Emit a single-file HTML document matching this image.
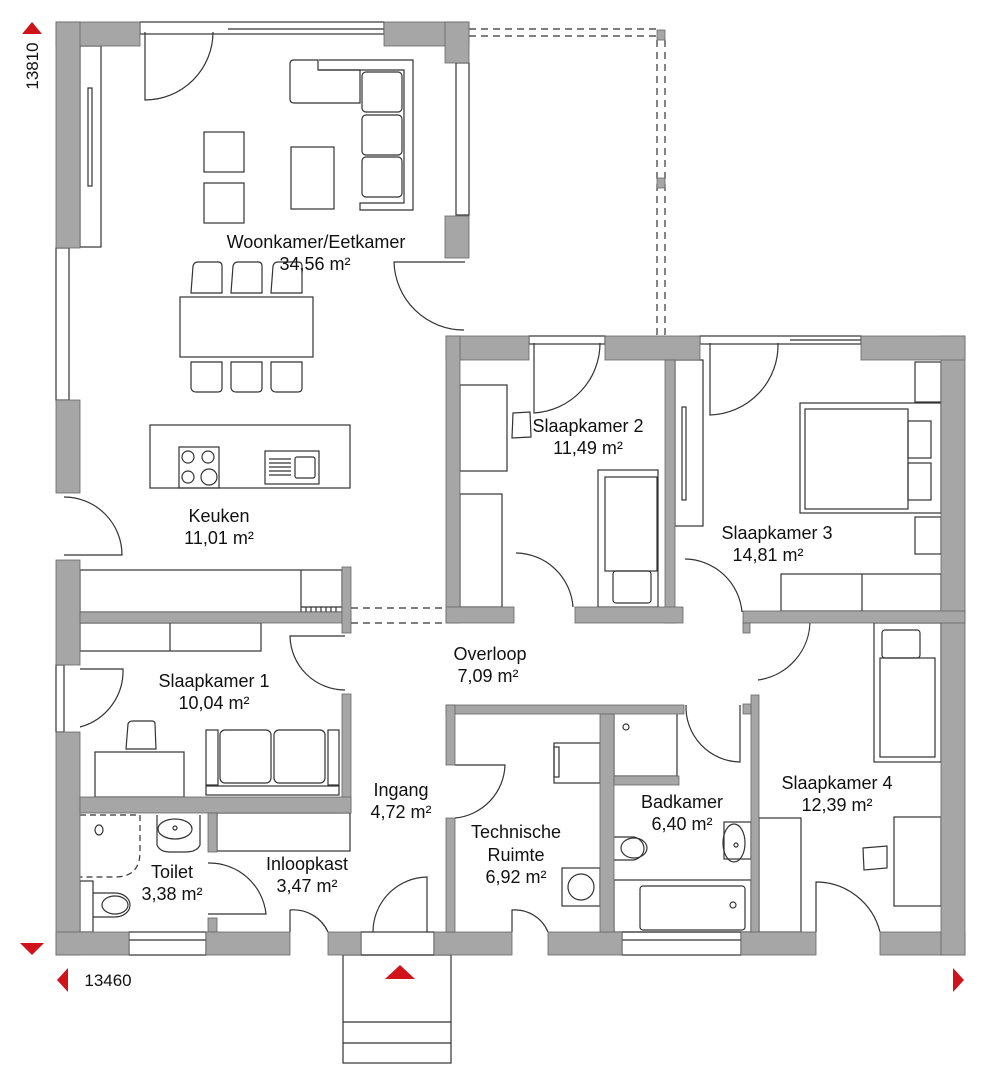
<!DOCTYPE html>
<html><head><meta charset="utf-8"><style>
html,body{margin:0;padding:0;background:#fff;}
svg{display:block;}
text{font-family:"Liberation Sans",sans-serif;font-size:18px;fill:#111;text-anchor:middle;}
</style></head><body>
<svg width="995" height="1080" viewBox="0 0 995 1080" xmlns="http://www.w3.org/2000/svg">
<g fill="none" stroke="#333" stroke-width="1.2">
<line x1="469" y1="29" x2="657" y2="29" stroke-dasharray="7,5"/>
<line x1="469" y1="36" x2="657" y2="36" stroke-dasharray="7,5"/>
<line x1="657" y1="40" x2="657" y2="336" stroke-dasharray="7,5"/>
<line x1="665" y1="40" x2="665" y2="336" stroke-dasharray="7,5"/>
<rect x="140" y="22" width="244" height="12"/>
<line x1="228" y1="29" x2="384" y2="29"/>
<rect x="456" y="63" width="13" height="152"/>
<rect x="56" y="248" width="13" height="152"/>
<rect x="56" y="665" width="8" height="67"/>
<rect x="80" y="46" width="21" height="201"/>
<rect x="88" y="88" width="4" height="98"/>
<path d="M145 32 V100 A68 68 0 0 0 213 32"/>
<path d="M465 262 H394 A70 70 0 0 0 464 330"/>
<path d="M64 497 A58 58 0 0 1 122 555 H64"/>
<path d="M345 636 H290 A55 55 0 0 0 345 690"/>
<path d="M80 669 H123 A58 58 0 0 1 80 727"/>
<path d="M208 863 A57 57 0 0 1 266 914 H208"/>
<path d="M290 932 V910 A38 38 0 0 1 328 932"/>
<path d="M373 932 A55 55 0 0 1 427 877 V932"/>
<path d="M534 343 V413 A70 70 0 0 0 600 343"/>
<path d="M710 343 V415 A70 70 0 0 0 778 343"/>
<path d="M516 553 A58 58 0 0 1 573 607"/>
<path d="M685 559 A58 58 0 0 1 742 612"/>
<path d="M455 765 H505 A55 55 0 0 1 455 818"/>
<path d="M746 622 H810 A60 60 0 0 1 758 680"/>
<path d="M686 705 A55 55 0 0 0 740 762 V705"/>
<path d="M512 932 V910 A36 36 0 0 1 548 932"/>
<path d="M816 932 V882 A66 66 0 0 1 880 932"/>
<rect x="129" y="932" width="77" height="23"/><line x1="129" y1="940" x2="206" y2="940"/>
<rect x="622" y="932" width="119" height="23"/><line x1="622" y1="940" x2="741" y2="940"/>
<rect x="361" y="932" width="73" height="23"/>
<rect x="529" y="336" width="76" height="8"/>
<rect x="700" y="336" width="161" height="8"/>
<line x1="790" y1="340" x2="861" y2="340"/>
<rect x="343" y="955" width="108" height="108"/>
<line x1="343" y1="1022" x2="451" y2="1022"/>
<line x1="343" y1="1043" x2="451" y2="1043"/>
<path d="M290 64 Q290 60 294 60 H318 V70 H360 V103 H294 Q290 103 290 99 Z"/>
<path d="M319 60 H413 V210 H360 V203 H404 V70 H319"/>
<rect x="362" y="72" width="40" height="40" rx="4"/>
<rect x="362" y="115" width="40" height="40" rx="4"/>
<rect x="362" y="157" width="40" height="40" rx="4"/>
<rect x="291" y="147" width="43" height="62"/>
<rect x="204" y="132" width="40" height="40"/>
<rect x="204" y="183" width="40" height="40"/>
<rect x="180" y="297" width="133" height="60"/>
<path d="M191 293 L193 266 Q194 262 198 262 H218 Q222 262 222 266 V293 Z"/>
<path d="M231 293 L233 266 Q234 262 238 262 H258 Q262 262 262 266 V293 Z"/>
<path d="M271 293 L273 266 Q274 262 278 262 H298 Q302 262 302 266 V293 Z"/>
<path d="M191 362 V388 Q192 392 196 392 H218 Q222 392 222 388 V362 Z"/>
<path d="M231 362 V388 Q232 392 236 392 H258 Q262 392 262 388 V362 Z"/>
<path d="M271 362 V388 Q272 392 276 392 H298 Q302 392 302 388 V362 Z"/>
<rect x="150" y="425" width="200" height="63"/>
<rect x="179" y="447" width="40" height="41"/>
<circle cx="188" cy="457" r="6"/><circle cx="208" cy="457" r="6"/>
<circle cx="188" cy="477" r="6"/><circle cx="209" cy="477" r="8"/>
<rect x="265" y="451" width="54" height="33"/>
<rect x="295" y="457" width="20" height="21" rx="2"/>
<path d="M269 459 H291 M269 463 H291 M269 467 H291 M269 471 H291 M269 475 H291"/>
<rect x="80" y="570" width="262" height="42"/>
<line x1="301" y1="570" x2="301" y2="612"/>
<path d="M301 607 H342 M306 607 V612 M311 607 V612 M316 607 V612 M321 607 V612 M326 607 V612 M331 607 V612 M336 607 V612"/>
<line x1="351" y1="608" x2="446" y2="608" stroke-dasharray="7,5"/>
<line x1="351" y1="623" x2="446" y2="623" stroke-dasharray="7,5"/>
<rect x="80" y="623" width="181" height="28"/><line x1="170" y1="623" x2="170" y2="651"/>
<rect x="95" y="752" width="89" height="45"/>
<path d="M126 749 L128 724 Q129 721 133 721 H152 Q155 721 155 724 L156 749 Z"/>
<rect x="206" y="730" width="12" height="55"/>
<rect x="220" y="730" width="51" height="53" rx="5"/>
<rect x="274" y="730" width="51" height="53" rx="5"/>
<rect x="328" y="730" width="11" height="55"/>
<rect x="206" y="786" width="133" height="9"/>
<path d="M80 815 H140 V852 Q140 877 115 877 H80" stroke-dasharray="6,4"/>
<ellipse cx="99" cy="830" rx="4" ry="5"/>
<path d="M157 815 V845 Q160 852 170 852 H185 Q197 852 200 845 V815"/>
<ellipse cx="175" cy="829" rx="17" ry="10"/><circle cx="175" cy="828" r="2"/>
<rect x="80" y="881" width="13" height="51"/>
<path d="M93 893 H115 A15 12 0 0 1 115 917 H93"/>
<ellipse cx="115" cy="905" rx="13" ry="9"/>
<rect x="217" y="813" width="133" height="38"/>
<rect x="460" y="385" width="47" height="86"/>
<rect x="460" y="494" width="42" height="113"/>
<path d="M513 413 L530 412 L531 437 L512 438 Z"/>
<rect x="598" y="470" width="60" height="137"/>
<rect x="605" y="477" width="52" height="94"/>
<rect x="613" y="571" width="38" height="32" rx="3"/>
<rect x="675" y="360" width="28" height="166"/>
<rect x="682" y="407" width="4" height="93"/>
<rect x="800" y="403" width="141" height="110"/>
<rect x="805" y="409" width="103" height="100"/>
<rect x="908" y="421" width="23" height="37"/>
<rect x="908" y="463" width="23" height="37"/>
<rect x="915" y="362" width="26" height="40"/>
<rect x="915" y="517" width="26" height="37"/>
<rect x="781" y="574" width="160" height="37"/>
<line x1="862" y1="574" x2="862" y2="611"/>
<rect x="874" y="623" width="67" height="139"/>
<rect x="880" y="658" width="55" height="99"/>
<rect x="882" y="630" width="38" height="28" rx="3"/>
<rect x="759" y="818" width="42" height="114"/>
<rect x="894" y="817" width="47" height="89"/>
<path d="M863 848 L887 846 V868 L864 870 Z"/>
<rect x="554" y="743" width="46" height="40"/>
<rect x="554" y="747" width="5" height="30"/>
<rect x="562" y="868" width="38" height="38"/>
<circle cx="581" cy="887" r="13"/>
<rect x="614" y="713" width="63" height="63"/><circle cx="626" cy="727" r="3"/>
<path d="M614 837 H634 A14 12 0 0 1 634 860 H614"/><ellipse cx="634" cy="848" rx="13" ry="10"/>
<rect x="724" y="822" width="27" height="37"/><ellipse cx="734" cy="843" rx="11" ry="19"/><circle cx="736" cy="845" r="2"/>
<rect x="614" y="880" width="137" height="52"/>
<rect x="640" y="886" width="105" height="44" rx="3"/><circle cx="733" cy="905" r="3"/>
<line x1="330" y1="945" x2="361" y2="945"/>
</g>
<g fill="#a6a6a6" stroke="#666" stroke-width="0.8">
<rect x="56" y="22" width="84" height="24"/>
<rect x="56" y="22" width="24" height="226"/>
<rect x="384" y="22" width="85" height="24"/>
<rect x="445" y="22" width="24" height="41"/>
<rect x="445" y="216" width="24" height="42"/>
<rect x="56" y="400" width="24" height="93"/>
<rect x="56" y="560" width="24" height="105"/>
<rect x="56" y="732" width="24" height="223"/>
<rect x="80" y="612" width="271" height="11"/>
<rect x="342" y="567" width="9" height="66"/>
<rect x="342" y="694" width="9" height="119"/>
<rect x="80" y="797" width="271" height="16"/>
<rect x="208" y="813" width="9" height="39"/>
<rect x="208" y="918" width="9" height="14"/>
<rect x="56" y="932" width="73" height="23"/>
<rect x="206" y="932" width="84" height="23"/>
<rect x="328" y="932" width="33" height="23"/>
<rect x="434" y="932" width="78" height="23"/>
<rect x="548" y="932" width="74" height="23"/>
<rect x="741" y="932" width="75" height="23"/>
<rect x="880" y="932" width="85" height="23"/>
<rect x="941" y="336" width="24" height="619"/>
<rect x="446" y="336" width="83" height="24"/>
<rect x="605" y="336" width="95" height="24"/>
<rect x="861" y="336" width="104" height="24"/>
<rect x="446" y="336" width="14" height="287"/>
<rect x="665" y="360" width="10" height="263"/>
<rect x="446" y="607" width="68" height="16"/>
<rect x="575" y="607" width="108" height="16"/>
<rect x="743" y="611" width="222" height="12"/>
<rect x="743" y="623" width="7" height="10"/>
<rect x="446" y="705" width="238" height="9"/>
<rect x="446" y="705" width="9" height="60"/>
<rect x="446" y="818" width="9" height="114"/>
<rect x="600" y="714" width="14" height="218"/>
<rect x="614" y="776" width="65" height="9"/>
<rect x="751" y="695" width="8" height="237"/>
<rect x="743" y="704" width="8" height="10"/>
<rect x="657" y="30" width="8" height="10"/>
<rect x="657" y="178" width="8" height="10"/>
</g>
<text x="316" y="248">Woonkamer/Eetkamer</text><text x="315" y="270">34,56 m²</text>
<text x="219" y="522">Keuken</text><text x="219" y="544">11,01 m²</text>
<text x="588" y="432">Slaapkamer 2</text><text x="588" y="454">11,49 m²</text>
<text x="777" y="539">Slaapkamer 3</text><text x="768" y="561">14,81 m²</text>
<text x="490" y="660">Overloop</text><text x="488" y="682">7,09 m²</text>
<text x="214" y="687">Slaapkamer 1</text><text x="214" y="709">10,04 m²</text>
<text x="401" y="796">Ingang</text><text x="401" y="818">4,72 m²</text>
<text x="172" y="878">Toilet</text><text x="172" y="900">3,38 m²</text>
<text x="307" y="870">Inloopkast</text><text x="307" y="892">3,47 m²</text>
<text x="516" y="838">Technische</text><text x="516" y="861">Ruimte</text><text x="516" y="883">6,92 m²</text>
<text x="682" y="808">Badkamer</text><text x="682" y="830">6,40 m²</text>
<text x="837" y="789">Slaapkamer 4</text><text x="837" y="811">12,39 m²</text>
<g fill="#d0121b">
<polygon points="22,34 32,22 42,34"/>
<polygon points="20,943 44,943 32,955"/>
<polygon points="68,968 68,992 57,980"/>
<polygon points="953,968 953,992 964,980"/>
<polygon points="385,979 400,965 415,979"/>
</g>
<text x="0" y="0" transform="translate(38,66) rotate(-90)" style="font-size:17px">13810</text>
<text x="108" y="986" style="font-size:17px">13460</text>
</svg>
</body></html>
